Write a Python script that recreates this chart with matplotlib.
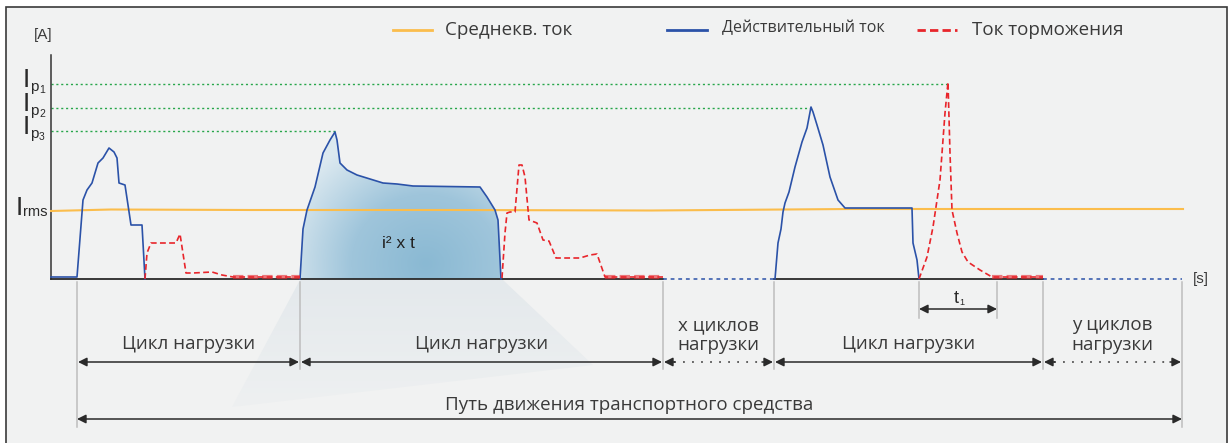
import matplotlib.pyplot as plt
import numpy as np
from matplotlib.patches import Rectangle, Polygon
from matplotlib.colors import LinearSegmentedColormap

plt.rcParams['font.family'] = ['Open Sans', 'DejaVu Sans']
ARIAL = ['Liberation Sans', 'DejaVu Sans']

# --- данные (время и ток в условных единицах) ---
# действительный ток, цикл 1
cyc1_t = [0, 26, 32, 36, 41, 47, 52, 58, 63, 66, 68, 74, 80, 91, 94]
cyc1_i = [2, 2, 79, 89, 96, 116, 121, 131, 127, 121, 96, 94, 54, 54, 0]
# ток торможения, цикл 1
brk1_t = [94, 96, 100, 125, 129, 135, 142, 161, 171, 182, 249]
brk1_i = [0, 26, 36, 36, 45, 6, 6, 7, 4, 2, 2]
# действительный ток, цикл 2
cyc2_t = [249, 252, 256, 264, 272, 279, 284, 286, 289, 296, 306, 319, 332, 346, 362, 429, 436, 444, 447, 450]
cyc2_i = [0, 50, 69, 92, 126, 139, 147, 139, 116, 109, 104, 100, 96, 95, 93, 92, 82, 69, 59, 0]
# ток торможения, цикл 2
brk2_t = [451, 454, 456, 459, 464, 468, 471, 474, 478, 486, 492, 498, 505, 529, 539, 546, 554, 612]
brk2_i = [1, 46, 66, 67, 67, 114, 114, 102, 59, 56, 39, 38, 21, 21, 24, 25, 2, 2]
# действительный ток, цикл 3
cyc3_t = [724, 727, 730, 732, 734, 738, 744, 751, 756, 760, 762, 766, 772, 779, 787, 794, 809, 861, 862, 866, 868]
cyc3_i = [0, 36, 50, 67, 76, 87, 112, 137, 151, 172, 167, 154, 134, 102, 79, 71, 71, 71, 36, 19, 0]
# ток торможения, цикл 3
brk3_t = [868, 876, 882, 889, 894, 897, 899, 901, 906, 911, 917, 929, 941, 992]
brk3_i = [0, 22, 52, 99, 166, 197, 126, 69, 46, 27, 17, 9, 2, 2]
# среднеквадратичный ток
rms_t = [0, 60, 200, 400, 600, 800, 1132]
rms_i = [68, 69.5, 69, 69, 68.5, 70, 70]

peak_sub = ['1', '2', '3']
peak_i = [195, 171, 148]
peak_t = [897, 760, 284]
irms = 68

# границы циклов и интервал t1
bounds = [26, 249, 612, 723, 992, 1131]
t1_span = [868, 946]
cycle_labels = ['Цикл нагрузки', 'Цикл нагрузки', 'x циклов\nнагрузки', 'Цикл нагрузки', 'y циклов\nнагрузки']
cycle_dotted = [False, False, True, False, True]

BLUE = '#2b52a8'
RED = '#e8252b'
ORANGE = '#fbbd4c'
GREEN = '#27a64a'
DARK = '#2a2a2a'
TXT = '#3a3a3a'

fig = plt.figure(figsize=(12.3, 4.43), dpi=100, facecolor='white')
ax = fig.add_axes([0, 0, 1, 1])
ax.set_xlim(-51, 1179)
ax.set_ylim(-164, 279)
ax.axis('off')

# рамка
ax.add_patch(Rectangle((-45, -200), 1221, 472, facecolor='#f1f2f2',
                       edgecolor='#3a3a3a', lw=1.2, zorder=0))

# тень под областью i^2 x t
shadow = Polygon([(249, -1), (452, -1), (542, -86), (181, -128)], closed=True,
                 facecolor='none', edgecolor='none')
ax.add_patch(shadow)
sh_cmap = LinearSegmentedColormap.from_list('sh', ['#eef0f1', '#e4e9ec'])
gy = np.linspace(0, 1, 100).reshape(-1, 1) * np.ones((1, 10))
im = ax.imshow(gy, extent=(181, 542, -128, -1), origin='lower', cmap=sh_cmap,
               aspect='auto', zorder=1, interpolation='bilinear')
im.set_clip_path(shadow)

# градиентная заливка под циклом 2
fill_poly = Polygon(list(zip(cyc2_t, cyc2_i)), closed=True, facecolor='none', edgecolor='none')
ax.add_patch(fill_poly)
xx, yy = np.meshgrid(np.linspace(249, 450, 300), np.linspace(0, 150, 200))
r = np.sqrt(((xx - 375) / 150) ** 2 + ((yy - 15) / 140) ** 2)
fill_cmap = LinearSegmentedColormap.from_list('fl', ['#8ab9d3', '#9fc5db', '#dce9f0'])
im2 = ax.imshow(np.clip(r, 0, 1), extent=(249, 450, 0, 150), origin='lower', cmap=fill_cmap,
                aspect='auto', zorder=1, interpolation='bilinear', vmin=0, vmax=1)
im2.set_clip_path(fill_poly)
ax.text(347, 36, 'i² x t', fontsize=12.5, color='#222', ha='center', va='center',
        zorder=5, family=ARIAL)

# оси
ax.plot([0, 0], [0, 224], color='#333', lw=1.1, zorder=3)
ax.plot([0, bounds[2]], [0, 0], color=DARK, lw=1.3, zorder=3)
ax.plot([bounds[3], bounds[4]], [0, 0], color=DARK, lw=1.3, zorder=3)
for a, b in [(bounds[2], bounds[3]), (bounds[4], bounds[5])]:
    ax.plot([a, b], [0, 0], color=BLUE, lw=1.1, ls=(0, (2.5, 2.5)), zorder=3)
ax.text(-8, 244, '[A]', fontsize=11, color=TXT, ha='center', va='center', family=ARIAL)
ax.text(1142, 0, '[s]', fontsize=11, color=TXT, ha='left', va='center', family=ARIAL)

# уровни пиковых токов
for sub, ip, tp in zip(peak_sub, peak_i, peak_t):
    ax.plot([0, tp], [ip, ip], color=GREEN, lw=1.0, ls=(0, (1.5, 2)), zorder=2)
    ax.text(-21, ip - 3, 'I', fontsize=19, color=DARK, ha='right', va='baseline', family=ARIAL)
    ax.text(-21, ip - 7, 'p', fontsize=11, color=DARK, ha='left', va='baseline', family=ARIAL)
    ax.text(-12, ip - 9, sub, fontsize=7.5, color=DARK, ha='left', va='baseline', family=ARIAL)
ax.text(-28, irms - 4, 'I', fontsize=19, color=DARK, ha='right', va='baseline', family=ARIAL)
ax.text(-28, irms - 5, 'rms', fontsize=10.5, color=DARK, ha='left', va='baseline', family=ARIAL)

# кривые
ax.plot(rms_t, rms_i, color=ORANGE, lw=1.5, zorder=3)
for t, i in [(cyc1_t, cyc1_i), (cyc2_t, cyc2_i), (cyc3_t, cyc3_i)]:
    ax.plot(t, i, color=BLUE, lw=1.2, zorder=4)
for t, i in [(brk1_t, brk1_i), (brk2_t, brk2_i), (brk3_t, brk3_i)]:
    ax.plot(t, i, color=RED, lw=1.2, dashes=(3.5, 2), zorder=4)
    ax.plot(t[-2:], i[-2:], color=RED, lw=3, alpha=0.6, dashes=(2.5, 1), zorder=4)

# легенда
ax.plot([342, 381], [249, 249], color=ORANGE, lw=2)
ax.text(394, 249, 'Среднекв. ток', fontsize=13.5, color=TXT, va='center')
ax.plot([616, 656], [249, 249], color=BLUE, lw=2)
ax.text(671, 251, 'Действительный ток', fontsize=11.5, color=TXT, va='center')
ax.plot([866, 906], [249, 249], color=RED, lw=2, dashes=(3, 1.5))
ax.text(921, 249, 'Ток торможения', fontsize=13.5, color=TXT, va='center')

# вертикальные линии границ
GREY = '#bdbdbd'
for k, b in enumerate(bounds):
    low = -148 if k in (0, len(bounds) - 1) else -90
    ax.plot([b, b], [-3, low], color=GREY, lw=1.1, zorder=2)
for b in t1_span:
    ax.plot([b, b], [-3, -39], color=GREY, lw=1.1, zorder=2)


def arrow(a, b, y, dotted=False):
    if not dotted:
        ax.annotate('', xy=(b, y), xytext=(a, y), zorder=5,
                    arrowprops=dict(arrowstyle='<|-|>', color=DARK, lw=1.1,
                                    shrinkA=0, shrinkB=0, mutation_scale=13))
    else:
        ax.plot([a + 10, b - 10], [y, y], color='#555', lw=1.3, ls=(0, (1, 4)))
        for end, back in [(a, a + 11), (b, b - 11)]:
            ax.annotate('', xy=(end, y), xytext=(back, y), zorder=5,
                        arrowprops=dict(arrowstyle='-|>', color=DARK, lw=1.1,
                                        shrinkA=0, shrinkB=0, mutation_scale=13))


# циклы нагрузки
for k, (label, dotted) in enumerate(zip(cycle_labels, cycle_dotted)):
    a, b = bounds[k] + 1, bounds[k + 1] - 1
    arrow(a, b, -83, dotted)
    if '\n' in label:
        ax.text((a + b) / 2, -56, label, fontsize=13.5, color=TXT, ha='center',
                va='center', linespacing=1.1)
    else:
        ax.text((a + b) / 2, -65, label, fontsize=13.5, color=TXT, ha='center', va='center')

# t1
arrow(t1_span[0], t1_span[1], -30)
ax.text(sum(t1_span) / 2 + 1, -24, 't', fontsize=13, color=DARK, ha='right', va='baseline',
        family=ARIAL)
ax.text(sum(t1_span) / 2 + 1.5, -26, '1', fontsize=6.5, color=DARK, ha='left', va='baseline',
        family=ARIAL)

# путь движения
arrow(bounds[0], bounds[-1], -140)
ax.text((bounds[0] + bounds[-1]) / 2, -126, 'Путь движения транспортного средства',
        fontsize=13.5, color=TXT, ha='center', va='center')

fig.savefig('out.png', dpi=100, facecolor='white')
